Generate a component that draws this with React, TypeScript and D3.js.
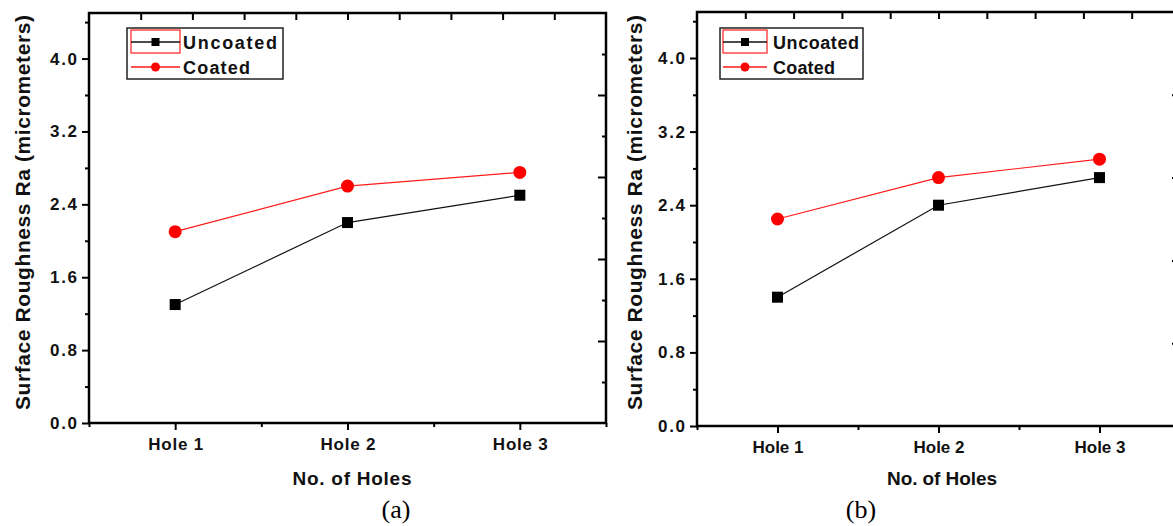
import React, { useEffect, useRef } from "react";
import * as d3 from "d3";

// values
const categories = ["Hole 1", "Hole 2", "Hole 3"];
const uncoatedA = [1.3, 2.2, 2.5];
const coatedA = [2.1, 2.6, 2.75];
const uncoatedB = [1.4, 2.4, 2.7];
const coatedB = [2.25, 2.7, 2.9];
const yTicks = [0, 0.8, 1.6, 2.4, 3.2, 4.0];
const yMinor = [0.4, 1.2, 2.0, 2.8, 3.6, 4.4];
const seriesNames = ["Uncoated", "Coated"];

const W = 1173;
const H = 526;
const SANS = "'Liberation Sans', Arial, sans-serif";

const panels = [
  {
    id: "a", uncoated: uncoatedA, coated: coatedA,
    left: 89, right: 606, top: 13, bottom: 423,
    yLabelX: 30, yLabelLen: 395, tickLabelW: 27, holeW: 55,
    xTitleX: 352, xTitleW: 119, capX: 396,
    legend: { x: 127, y: 28, w: 156, h: 51, sx: 131, sw: 49, tx: 183, uw: 94, cw: 67 },
  },
  {
    id: "b", uncoated: uncoatedB, coated: coatedB,
    left: 697, right: 1180, top: 12, bottom: 426,
    yLabelX: 642, yLabelLen: 395, tickLabelW: 27, holeW: 51,
    xTitleX: 942, xTitleW: 110, capX: 861,
    legend: { x: 720, y: 28, w: 143, h: 51, sx: 723, sw: 44, tx: 773, uw: 86, cw: 62 },
  },
];

function drawPanel(svg: any, p: any) {
  const x = d3.scaleLinear().domain([0.5, 3.5]).range([p.left, p.right]);
  const y = d3.scaleLinear().domain([0, 4.5]).range([p.bottom, p.top]);
  const g = svg.append("g");

  const styleAxis = (a: any) => {
    a.select(".domain").remove();
    a.selectAll(".tick line").attr("stroke", "#000").attr("stroke-width", 2);
    a.selectAll("text")
      .attr("fill", "#111")
      .attr("font-family", SANS)
      .attr("font-weight", "bold")
      .attr("font-size", 17);
  };

  // left axis
  g.append("g")
    .attr("transform", `translate(${p.left},0)`)
    .call(d3.axisLeft(y).tickValues(yTicks).tickSize(7).tickPadding(5).tickFormat(d3.format(".1f")))
    .call(styleAxis)
    .call((a: any) => a.selectAll("text").attr("textLength", p.tickLabelW).attr("lengthAdjust", "spacing"));
  g.append("g")
    .attr("transform", `translate(${p.left},0)`)
    .call(d3.axisLeft(y).tickValues(yMinor).tickSize(4).tickFormat(() => ""))
    .call(styleAxis);

  // bottom axis
  g.append("g")
    .attr("transform", `translate(0,${p.bottom})`)
    .call(d3.axisBottom(x).tickValues([1, 2, 3]).tickSize(7).tickPadding(8)
      .tickFormat((d: any) => categories[Math.round(d) - 1]))
    .call(styleAxis)
    .call((a: any) => a.selectAll("text").attr("textLength", p.holeW).attr("lengthAdjust", "spacing"));
  g.append("g")
    .attr("transform", `translate(0,${p.bottom})`)
    .call(d3.axisBottom(x).tickValues([0.5, 1.5, 2.5, 3.5]).tickSize(4).tickFormat(() => ""))
    .call(styleAxis);

  // top axis, ticks inside
  g.append("g")
    .attr("transform", `translate(0,${p.top})`)
    .call(d3.axisBottom(x).tickValues(d3.range(1, 10).map((k) => 0.5 + 0.3 * k)).tickSize(7).tickFormat(() => ""))
    .call(styleAxis);

  // right axis, ticks inside
  const rightMajor = [0.9, 1.8, 2.7, 3.6];
  const rightMinor = [0.45, 1.35, 2.25, 3.15, 4.05];
  g.append("g")
    .attr("transform", `translate(${p.right},0)`)
    .call(d3.axisLeft(y).tickValues(rightMajor).tickSize(8).tickFormat(() => ""))
    .call(styleAxis);
  g.append("g")
    .attr("transform", `translate(${p.right},0)`)
    .call(d3.axisLeft(y).tickValues(rightMinor).tickSize(4).tickFormat(() => ""))
    .call(styleAxis);

  // frame
  g.append("rect")
    .attr("x", p.left).attr("y", p.top)
    .attr("width", p.right - p.left).attr("height", p.bottom - p.top)
    .attr("fill", "none").attr("stroke", "#000").attr("stroke-width", 2.5);

  const line = d3.line<number>().x((d, i) => x(i + 1)).y((d) => y(d));

  g.append("path").datum(p.uncoated).attr("d", line)
    .attr("fill", "none").attr("stroke", "#111").attr("stroke-width", 1.2);
  g.append("path").datum(p.coated).attr("d", line)
    .attr("fill", "none").attr("stroke", "#ff1a1a").attr("stroke-width", 1.2);

  g.selectAll(".sq").data(p.uncoated).join("rect")
    .attr("x", (d: number, i: number) => x(i + 1) - 5.5)
    .attr("y", (d: number) => y(d) - 5.5)
    .attr("width", 11).attr("height", 11).attr("fill", "#000");
  g.selectAll(".ci").data(p.coated).join("circle")
    .attr("cx", (d: number, i: number) => x(i + 1))
    .attr("cy", (d: number) => y(d))
    .attr("r", 6.5).attr("fill", "#ff0000");

  // legend
  const L = p.legend;
  const lg = g.append("g");
  lg.append("rect").attr("x", L.x).attr("y", L.y).attr("width", L.w).attr("height", L.h)
    .attr("fill", "#fff").attr("stroke", "#222").attr("stroke-width", 1.5);
  lg.append("rect").attr("x", L.sx).attr("y", L.y + 2).attr("width", L.sw).attr("height", 23)
    .attr("fill", "none").attr("stroke", "#ff3030").attr("stroke-width", 1.3);
  const rows = [L.y + 14, L.y + 39];
  rows.forEach((ry, i) => {
    lg.append("line").attr("x1", L.sx).attr("x2", L.sx + L.sw).attr("y1", ry).attr("y2", ry)
      .attr("stroke", i === 0 ? "#111" : "#ff1a1a").attr("stroke-width", 1.3);
    const cx = L.sx + L.sw / 2;
    if (i === 0) {
      lg.append("rect").attr("x", cx - 4).attr("y", ry - 4).attr("width", 8).attr("height", 8).attr("fill", "#000");
    } else {
      lg.append("circle").attr("cx", cx).attr("cy", ry).attr("r", 4.5).attr("fill", "#ff0000");
    }
    lg.append("text").attr("x", L.tx).attr("y", ry + 6.5)
      .attr("font-family", SANS).attr("font-size", 18).attr("font-weight", "bold").attr("fill", "#111")
      .attr("textLength", i === 0 ? L.uw : L.cw).attr("lengthAdjust", "spacing")
      .text(seriesNames[i]);
  });

  // axis titles
  g.append("text")
    .attr("transform", `translate(${p.yLabelX},${(15 + 410) / 2}) rotate(-90)`)
    .attr("text-anchor", "middle")
    .attr("font-family", SANS).attr("font-size", 21).attr("font-weight", "bold").attr("fill", "#111")
    .attr("textLength", p.yLabelLen).attr("lengthAdjust", "spacing")
    .text("Surface Roughness Ra (micrometers)");
  g.append("text")
    .attr("x", p.xTitleX).attr("y", 485)
    .attr("text-anchor", "middle")
    .attr("font-family", SANS).attr("font-size", 19).attr("font-weight", "bold").attr("fill", "#111")
    .attr("textLength", p.xTitleW).attr("lengthAdjust", "spacing")
    .text("No. of Holes");

  // caption
  g.append("text")
    .attr("x", p.capX).attr("y", 518)
    .attr("text-anchor", "middle")
    .attr("font-family", "'Liberation Serif', 'Times New Roman', serif").attr("font-size", 26)
    .attr("fill", "#000")
    .text(`(${p.id})`);
}

export default function App() {
  const ref = useRef<SVGSVGElement>(null);

  useEffect(() => {
    const svg = d3.select(ref.current);
    svg.selectAll("*").remove();
    svg.append("rect").attr("width", W).attr("height", H).attr("fill", "#fff");
    panels.forEach((p) => drawPanel(svg, p));
  }, []);

  return (
    <svg
      ref={ref}
      width={W}
      height={H}
      style={{ position: "absolute", left: 0, top: 0, display: "block" }}
    />
  );
}
